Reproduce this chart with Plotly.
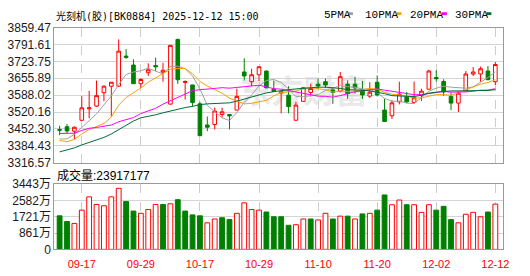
import plotly.graph_objects as go

# ---------------- data ----------------
days = ["09-12", "09-15", "09-16", "09-17", "09-18", "09-19", "09-22", "09-23", "09-24", "09-25",
        "09-26", "09-29", "09-30", "10-09", "10-10", "10-13", "10-14", "10-15", "10-16", "10-17",
        "10-20", "10-21", "10-22", "10-23", "10-24", "10-27", "10-28", "10-29", "10-30", "10-31",
        "11-03", "11-04", "11-05", "11-06", "11-07", "11-10", "11-11", "11-12", "11-13", "11-14",
        "11-17", "11-18", "11-19", "11-20", "11-21", "11-24", "11-25", "11-26", "11-27", "11-28",
        "12-01", "12-02", "12-03", "12-04", "12-05", "12-08", "12-09", "12-10", "12-11", "12-12"]

open_ = [3450, 3461, 3443, 3487, 3533, 3544, 3598, 3624, 3624, 3745,
         3709, 3634, 3678, 3707, 3680, 3552, 3812, 3639, 3629, 3553,
         3468, 3470, 3510, 3510, 3528, 3681, 3642, 3670, 3685, 3612,
         3597, 3588, 3487, 3563, 3599, 3632, 3642, 3609, 3604, 3632,
         3632, 3609, 3584, 3640, 3528, 3505, 3561, 3581, 3558, 3586,
         3612, 3659, 3643, 3583, 3556, 3605, 3673, 3673, 3685, 3642]
high = [3465, 3472, 3462, 3584, 3605, 3647, 3627, 3641, 3812, 3773,
        3732, 3656, 3716, 3739, 3718, 3789, 3815, 3647, 3630, 3561,
        3502, 3538, 3538, 3512, 3614, 3736, 3694, 3704, 3687, 3647,
        3602, 3624, 3561, 3619, 3634, 3655, 3655, 3619, 3681, 3647,
        3662, 3645, 3640, 3667, 3573, 3568, 3642, 3601, 3643, 3614,
        3690, 3688, 3652, 3598, 3604, 3685, 3701, 3703, 3705, 3721]
low = [3427, 3434, 3411, 3485, 3495, 3541, 3563, 3501, 3622, 3734,
       3633, 3617, 3665, 3685, 3642, 3550, 3633, 3570, 3542, 3424,
       3443, 3450, 3497, 3450, 3527, 3647, 3624, 3645, 3616, 3601,
       3515, 3515, 3486, 3562, 3583, 3612, 3617, 3553, 3599, 3573,
       3594, 3573, 3576, 3583, 3481, 3492, 3551, 3556, 3557, 3565,
       3611, 3642, 3585, 3528, 3520, 3604, 3665, 3642, 3649, 3629]
close = [3447, 3444, 3459, 3537, 3537, 3586, 3624, 3640, 3765, 3740,
         3634, 3651, 3690, 3702, 3688, 3788, 3650, 3643, 3558, 3425,
         3459, 3524, 3521, 3505, 3583, 3665, 3670, 3702, 3617, 3603,
         3601, 3542, 3548, 3618, 3615, 3625, 3629, 3599, 3662, 3594,
         3617, 3589, 3600, 3589, 3482, 3557, 3592, 3561, 3578, 3604,
         3685, 3654, 3601, 3556, 3596, 3673, 3681, 3694, 3650, 3711]

ma5 = [3412, 3412, 3431, 3460, 3485, 3513, 3549, 3585, 3630, 3671,
       3681, 3686, 3696, 3683, 3673, 3704, 3704, 3694, 3665, 3613,
       3547, 3521, 3497, 3486, 3518, 3559, 3589, 3625, 3647, 3651,
       3639, 3613, 3582, 3582, 3585, 3590, 3607, 3617, 3626, 3622,
       3620, 3612, 3612, 3598, 3575, 3563, 3564, 3556, 3554, 3578,
       3604, 3616, 3624, 3620, 3618, 3616, 3621, 3640, 3659, 3682]
ma10 = [3406, 3401, 3410, 3432, 3450, 3462, 3474, 3500, 3548, 3578,
        3597, 3617, 3640, 3657, 3672, 3692, 3695, 3695, 3674, 3643,
        3625, 3612, 3596, 3576, 3565, 3553, 3555, 3561, 3567, 3585,
        3599, 3601, 3604, 3615, 3618, 3614, 3610, 3600, 3604, 3603,
        3605, 3610, 3615, 3612, 3599, 3592, 3588, 3584, 3576, 3577,
        3584, 3590, 3590, 3587, 3598, 3610, 3619, 3632, 3639, 3650]
ma20 = [3434, 3434, 3435, 3446, 3455, 3458, 3462, 3468, 3481, 3490,
        3498, 3514, 3523, 3535, 3552, 3566, 3580, 3594, 3606, 3610,
        3611, 3615, 3618, 3616, 3619, 3623, 3625, 3628, 3621, 3614,
        3612, 3607, 3600, 3595, 3592, 3584, 3583, 3580, 3586, 3594,
        3602, 3605, 3609, 3613, 3608, 3603, 3599, 3592, 3590, 3590,
        3594, 3600, 3603, 3600, 3599, 3601, 3604, 3608, 3608, 3614]
ma30 = [3360, 3367, 3376, 3388, 3398, 3408, 3418, 3432, 3450, 3468,
        3484, 3497, 3502, 3509, 3517, 3525, 3532, 3538, 3543, 3550,
        3553, 3554, 3555, 3557, 3564, 3572, 3582, 3590, 3597, 3602,
        3607, 3610, 3613, 3616, 3619, 3620, 3620, 3619, 3615, 3610,
        3610, 3608, 3605, 3601, 3594, 3586, 3584, 3582, 3582, 3588,
        3596, 3600, 3603, 3605, 3605, 3605, 3606, 3605, 3607, 3610]

# volume in 万 (10k) and direction (1 = up/red, 0 = down/green)
volume = [1772, 1471, 1371, 2073, 2776, 2374, 2307, 2776, 3227, 2525,
          2023, 1906, 2107, 2374, 2374, 2408, 2625, 2023, 1822, 1772,
          1404, 1605, 1672, 1572, 1906, 2458, 2107, 2073, 1973, 1722,
          1722, 1271, 1304, 1605, 1605, 1555, 1906, 1605, 1756, 1756,
          1605, 1873, 1906, 2073, 2876, 2358, 2608, 2358, 2358, 1956,
          2358, 2073, 2274, 1572, 1404, 1856, 1956, 1722, 1973, 2392]
vol_up = [0, 0, 1, 1, 1, 1, 1, 1, 1, 0,
          0, 1, 1, 1, 0, 1, 0, 0, 0, 0,
          1, 1, 0, 0, 1, 1, 1, 1, 0, 0,
          0, 0, 1, 1, 0, 1, 1, 0, 1, 0,
          1, 0, 1, 0, 0, 1, 1, 0, 1, 1,
          1, 0, 0, 0, 1, 1, 1, 1, 0, 1]

date_ticks = ["09-17", "09-29", "10-17", "10-29", "11-10", "11-20", "12-02", "12-12"]
price_ticks = [3316.57, 3384.43, 3452.30, 3520.16, 3588.02, 3655.89, 3723.75, 3791.61, 3859.47]
vol_ticks = [0, 861, 1721, 2582, 3443]
vol_tick_text = ["0", "861万", "1721万", "2582万", "3443万"]

title_text = "光刻机(胶)[BK0884] 2025-12-12 15:00"
vol_title = "成交量:23917177"
ma_names = ["5PMA", "10PMA", "20PMA", "30PMA"]
ma_colors = ["#a0a0a0", "#f5a300", "#ff00ff", "#006b38"]

# ---------------- style ----------------
RED = "#ff0000"
GREEN = "#008000"
W, H = 530, 276
X0, X1 = 55, 509


def fx(px):
    return px / W


def fy(py):
    return 1 - py / H


fig = go.Figure()

fig.add_trace(go.Candlestick(
    x=days, open=open_, high=high, low=low, close=close,
    increasing=dict(line=dict(color=RED, width=1), fillcolor="#ffffff"),
    decreasing=dict(line=dict(color=GREEN, width=1), fillcolor=GREEN),
    whiskerwidth=0, xaxis="x", yaxis="y", showlegend=False, hoverinfo="skip"))

for name, vals, col in zip(ma_names, [ma5, ma10, ma20, ma30], ma_colors):
    fig.add_trace(go.Scatter(x=days, y=vals, mode="lines", name=name,
                             line=dict(color=col, width=1),
                             xaxis="x", yaxis="y", showlegend=False, hoverinfo="skip"))

fig.add_trace(go.Bar(
    x=days, y=volume, width=0.65,
    marker=dict(color=["#ffffff" if u else GREEN for u in vol_up],
                line=dict(color=[RED if u else GREEN for u in vol_up], width=1)),
    xaxis="x2", yaxis="y2", showlegend=False, hoverinfo="skip"))

axis_common = dict(showline=True, mirror=True, linecolor="#999999", linewidth=1,
                   zeroline=False, ticks="")
xrange = [-0.71, 60.07]

fig.update_layout(
    width=W, height=H, margin=dict(l=0, r=0, t=0, b=0),
    paper_bgcolor="#ffffff", plot_bgcolor="#ffffff",
    boxgap=0.3,
    xaxis=dict(domain=[fx(X0), fx(X1)], anchor="y", type="category", range=xrange,
               categoryorder="array", categoryarray=days,
               tickvals=date_ticks, showticklabels=False, showgrid=True,
               gridcolor="#cccccc", griddash="dash", gridwidth=1,
               rangeslider=dict(visible=False), **axis_common),
    yaxis=dict(domain=[fy(164), fy(21.7)], anchor="x", range=[price_ticks[0], price_ticks[-1]],
               tickvals=price_ticks, ticktext=[f"{v:.2f}" for v in price_ticks],
               showgrid=True, gridcolor="#d4d4d4", gridwidth=1,
               tickfont=dict(family="Liberation Sans, Arial", size=12, color="#1a1a1a"),
               **axis_common),
    xaxis2=dict(domain=[fx(X0), fx(X1)], anchor="y2", type="category", range=xrange,
                categoryorder="array", categoryarray=days, matches="x",
                tickvals=date_ticks, ticktext=date_ticks, showgrid=True,
                gridcolor="#cccccc", griddash="dash", gridwidth=1,
                tickfont=dict(family="Liberation Sans, Arial", size=11, color=RED),
                ticklabelstandoff=4, **axis_common),
    yaxis2=dict(domain=[fy(255.3), fy(186.7)], anchor="x2", range=[0, vol_ticks[-1]],
                tickvals=vol_ticks, ticktext=vol_tick_text,
                showgrid=True, gridcolor="#d4d4d4", gridwidth=1,
                tickfont=dict(family="Liberation Sans, Noto Sans CJK SC", size=12, color="#1a1a1a"),
                **axis_common),
)

annotations = [
    dict(text=title_text, x=fx(55), y=fy(9), xref="paper", yref="paper",
         xanchor="left", yanchor="middle", showarrow=False,
         font=dict(family="DejaVu Sans Mono, Noto Sans CJK SC", size=10, color="#000000")),
    dict(text=vol_title, x=fx(56), y=fy(177.5), xref="paper", yref="paper",
         xanchor="left", yanchor="middle", showarrow=False,
         font=dict(family="Liberation Sans, Noto Sans CJK SC", size=12, color="#000000")),
]
legend_text_x = [326, 367, 413, 458]
legend_sw_x = [352, 401, 447, 492]
shapes = []
for name, col, tx, sx in zip(ma_names, ma_colors, legend_text_x, legend_sw_x):
    annotations.append(dict(text=name, x=fx(tx), y=fy(8), xref="paper", yref="paper",
                            xanchor="left", yanchor="middle", showarrow=False,
                            font=dict(family="Liberation Mono, DejaVu Sans Mono", size=11,
                                      color="#000000")))
    shapes.append(dict(type="rect", xref="paper", yref="paper",
                       x0=fx(sx), x1=fx(sx + 5), y0=fy(8.5), y1=fy(5.5),
                       fillcolor=col, line=dict(width=0)))

# faint watermark
shapes.append(dict(type="rect", xref="paper", yref="paper", layer="below",
                   x0=fx(236), x1=fx(378), y0=fy(112), y1=fy(72),
                   line=dict(width=0), fillcolor="rgba(0,0,0,0)",
                   label=dict(text="东方财富", textposition="middle center",
                              font=dict(family="Noto Sans CJK SC", size=32,
                                        color="#e9e9e9", weight="bold"))))

fig.update_layout(annotations=annotations, shapes=shapes)

fig.write_html("out.html")
